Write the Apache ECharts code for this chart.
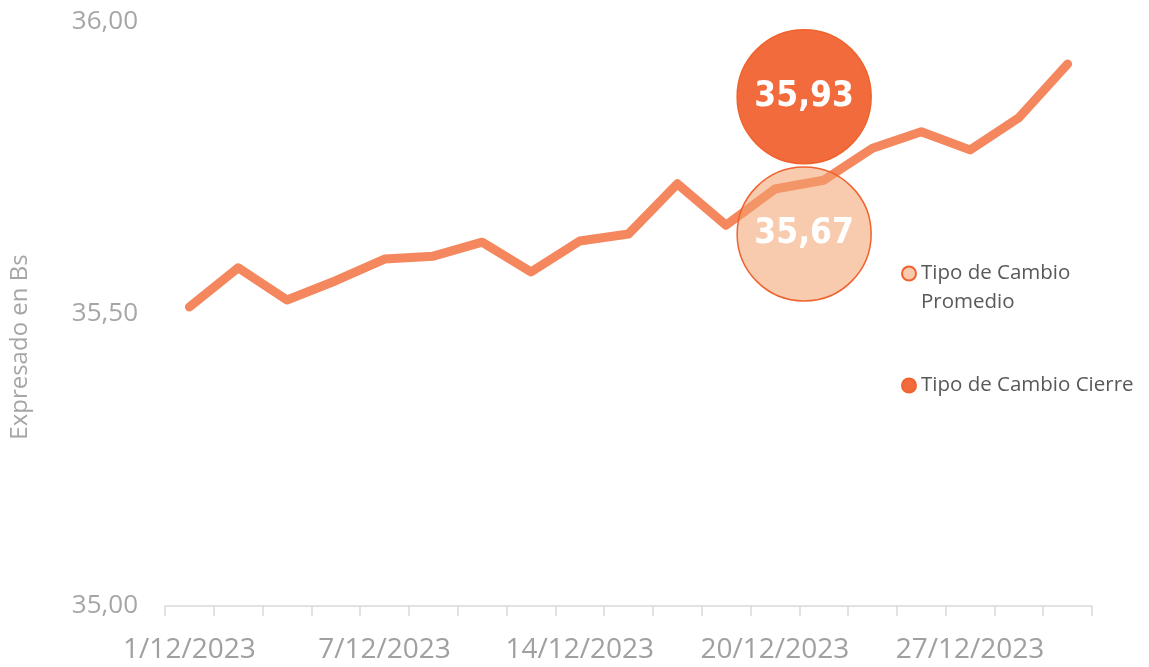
<!DOCTYPE html>
<html>
<head>
<meta charset="utf-8">
<script src="https://cdn.jsdelivr.net/npm/echarts@6/dist/echarts.min.js"></script>
<style>
  html, body { margin: 0; padding: 0; background: #fff; }
  #chart { width: 1149px; height: 667px; }
</style>
</head>
<body>
<div id="chart"></div>
<script>
// fechas habiles de diciembre 2023
var categories = ['1/12/2023', '4/12/2023', '5/12/2023', '6/12/2023', '7/12/2023',
  '11/12/2023', '12/12/2023', '13/12/2023', '14/12/2023', '15/12/2023',
  '18/12/2023', '19/12/2023', '20/12/2023', '21/12/2023', '22/12/2023',
  '26/12/2023', '27/12/2023', '28/12/2023', '29/12/2023'];
var tipoCambio = [35.512, 35.579, 35.524, 35.557, 35.594, 35.599, 35.623, 35.572,
  35.625, 35.637, 35.723, 35.652, 35.714, 35.729, 35.784, 35.812, 35.781, 35.836, 35.928];
var yTicks = [35.0, 35.5, 36.0];
// burbujas: [posicion x, posicion y, valor mostrado]
var promedio = [[12.6, 35.637, 35.67]];
var cierre = [[12.6, 35.872, 35.93]];
var nombrePromedio = 'Tipo de Cambio\nPromedio';
var nombreCierre = 'Tipo de Cambio Cierre';

function fmt(v) { return v.toFixed(2).replace('.', ','); }

var chart = echarts.init(document.getElementById('chart'));
var bubbleLabel = {
  show: true,
  position: 'inside',
  color: '#fff',
  fontSize: 35,
  fontWeight: 'bold',
  fontFamily: '"DejaVu Sans Condensed", sans-serif',
  formatter: function (p) { return fmt(p.value[2]); }
};

chart.setOption({
  backgroundColor: '#fff',
  animation: false,
  textStyle: { fontFamily: '"Open Sans", "Noto Sans", sans-serif' },
  grid: { left: 163, right: 57, top: 22, bottom: 61 },
  legend: {
    orient: 'vertical',
    left: 896,
    top: 225,
    itemGap: 54,
    itemWidth: 14,
    itemHeight: 14,
    icon: 'circle',
    data: [nombrePromedio, nombreCierre],
    // linea vacia arriba para que el icono quede junto a la primera linea
    formatter: function (name) { return name === nombrePromedio ? ' \n' + name : name; },
    textStyle: { color: '#595959', fontSize: 20.5, lineHeight: 29 }
  },
  xAxis: [{
    type: 'category',
    data: categories,
    boundaryGap: true,
    axisLine: { lineStyle: { color: '#d9d9d9', width: 1.5 } },
    axisTick: { show: true, interval: 0, length: 10, lineStyle: { color: '#d9d9d9', width: 1.5 } },
    axisLabel: { interval: 3, color: '#a0a0a0', fontSize: 28, margin: 30 },
    splitLine: { show: false }
  }, {
    type: 'value',
    min: -0.5,
    max: categories.length - 0.5,
    show: false
  }],
  yAxis: {
    type: 'value',
    min: yTicks[0],
    max: yTicks[yTicks.length - 1],
    interval: 0.5,
    name: 'Expresado en Bs',
    nameLocation: 'middle',
    nameGap: 133,
    nameTextStyle: { color: '#a6a6a6', fontSize: 24, padding: [0, 66, 0, 0] },
    axisLine: { show: false },
    axisTick: { show: false },
    splitLine: { show: false },
    axisLabel: { color: '#a6a6a6', fontSize: 26, margin: 27, formatter: fmt }
  },
  series: [{
    name: 'Tipo de Cambio',
    type: 'line',
    data: tipoCambio,
    showSymbol: false,
    lineStyle: { color: '#f5875f', width: 9, cap: 'round', join: 'round' },
    itemStyle: { color: '#f5875f' },
    z: 2
  }, {
    name: nombrePromedio,
    type: 'scatter',
    xAxisIndex: 1,
    data: promedio,
    symbolSize: 134,
    itemStyle: { color: 'rgba(242,160,110,0.55)', borderColor: '#f0622e', borderWidth: 1.5, opacity: 1 },
    label: bubbleLabel,
    z: 3
  }, {
    name: nombreCierre,
    type: 'scatter',
    xAxisIndex: 1,
    data: cierre,
    symbolSize: 134,
    itemStyle: { color: '#f26b3d', borderColor: '#f0622e', borderWidth: 1.5, opacity: 1 },
    label: bubbleLabel,
    z: 3
  }]
});
</script>
</body>
</html>
